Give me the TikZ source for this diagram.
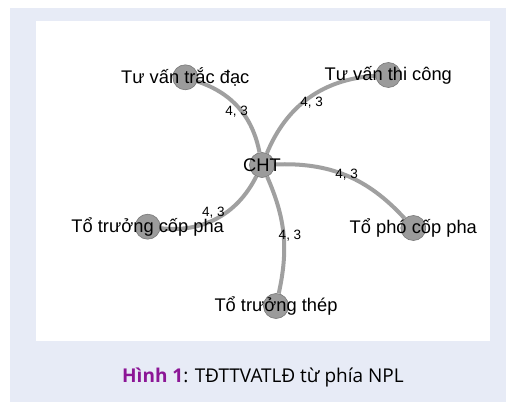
\documentclass[tikz,border=0pt]{standalone}
\usepackage{fontspec}
\setmainfont{Liberation Sans}
\newfontfamily\captionfont{Open Sans}
\usetikzlibrary{positioning}
\definecolor{panelbg}{RGB}{231,235,246}
\definecolor{edgegray}{RGB}{160,160,160}
\definecolor{nodegray}{RGB}{155,155,155}
\definecolor{rimgray}{RGB}{120,120,120}
\definecolor{figpurple}{RGB}{140,22,150}
\tikzset{
vertex/.style = {draw=rimgray, fill=nodegray, circle, minimum size=25pt, inner sep=0pt, line width=0.6pt},
vname/.style  = {font=\fontsize{18.3}{18}\selectfont, inner sep=0pt},
tie/.style    = {draw=edgegray, line width=4pt},
weight/.style = {font=\fontsize{13.5}{13}\selectfont, inner sep=0pt}
}

\begin{document}
\begin{tikzpicture}[x=1pt, y=1pt]
		\useasboundingbox (0,0) rectangle (506,402);
		\fill [panelbg] (10,0) rectangle (506,394);
		\fill [white] (36,61) rectangle (490,381);

		% people
		\node [vertex] (cht) at (262,237) {};
		\node [vertex] (trac) at (185.3,324.7) {};
		\node [vertex] (thicong) at (388.3,327) {};
		\node [vertex] (tocoppha) at (147.7,175.3) {};
		\node [vertex] (phocoppha) at (413.3,174) {};
		\node [vertex] (tothep) at (276,96) {};

		% ties
		\draw [tie] (cht) to [bend right=30] (trac);
		\draw [tie] (cht) to [bend left=32] (thicong);
		\draw [tie] (cht) to [bend left=25] (phocoppha);
		\draw [tie] (cht) to [bend left=35] (tocoppha);
		\draw [tie] (cht) to [bend left=18] (tothep);

		\node [vname] at (cht) {CHT};
		\node [vname] at (trac) {Tư vấn trắc đạc};
		\node [vname] at (thicong) {Tư vấn thi công};
		\node [vname] at (tocoppha) {Tổ trưởng cốp pha};
		\node [vname] at (phocoppha) {Tổ phó cốp pha};
		\node [vname] at (tothep) {Tổ trưởng thép};

		\node [weight] (w1) at (236.7,290.3) {4, 3};
		\node [weight] (w2) at (311.7,299.3) {4, 3};
		\node [weight] (w3) at (346.7,227) {4, 3};
		\node [weight] (w4) at (213.3,189) {4, 3};
		\node [weight] (w5) at (290,166.7) {4, 3};

		\node [font=\captionfont\fontsize{19}{19}\selectfont, inner sep=0pt] (caption) at (263,24) {\textcolor{figpurple}{\bfseries Hình 1}: TĐTTVATLĐ từ phía NPL};
\end{tikzpicture}
\end{document}
